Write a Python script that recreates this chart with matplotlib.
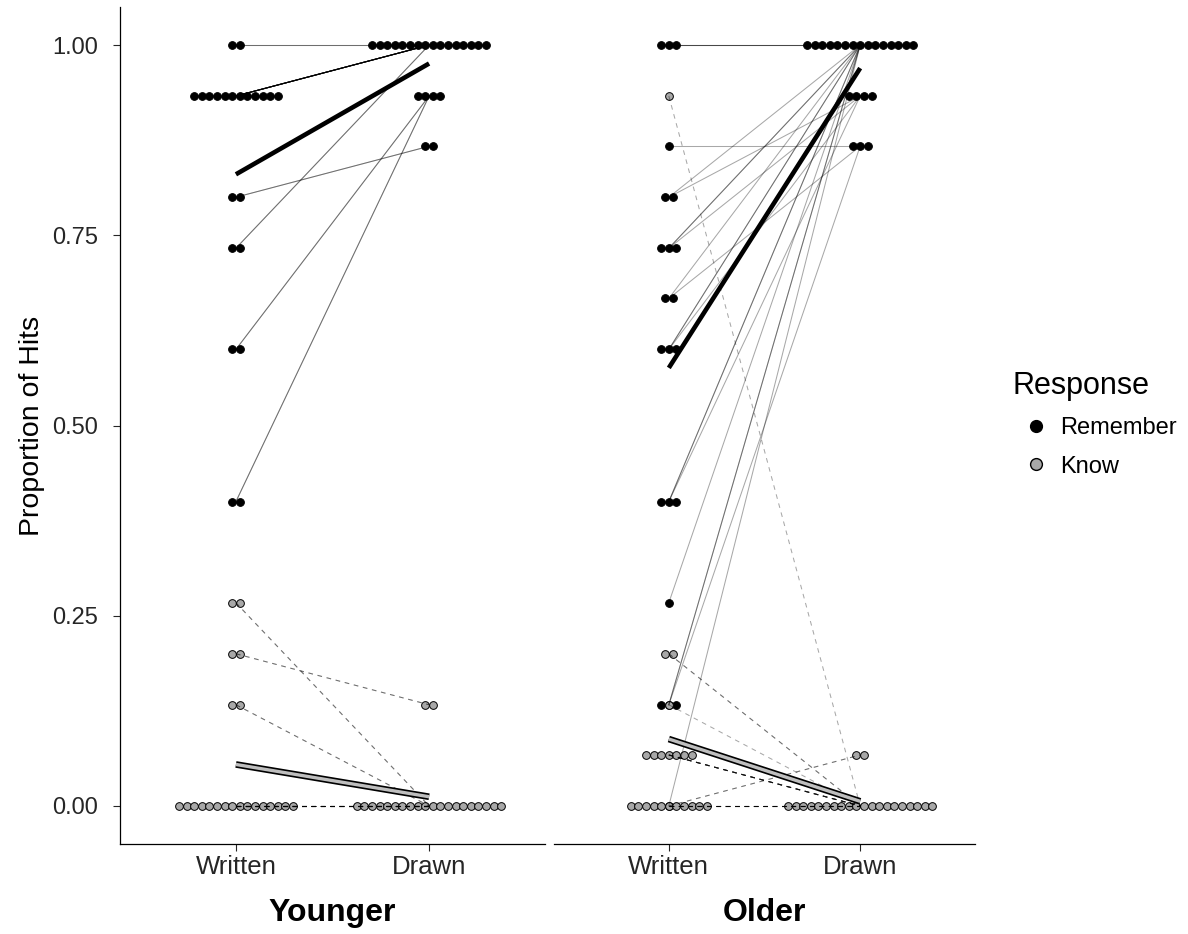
import matplotlib
matplotlib.use('Agg')
import matplotlib.pyplot as plt
import matplotlib.patheffects as pe
from matplotlib.lines import Line2D
import numpy as np
from collections import Counter

plt.rcParams['font.family'] = ['Liberation Sans', 'DejaVu Sans']

conditions = ['Written', 'Drawn']
groups = ['Younger', 'Older']
responses = ['Remember', 'Know']

# Per-participant proportions of hits (Written, Drawn)
younger_remember_written = [1.000, 1.000,
                            0.933, 0.933, 0.933, 0.933, 0.933, 0.933, 0.933, 0.933, 0.933, 0.933, 0.933, 0.933,
                            0.800, 0.800, 0.733, 0.733, 0.600, 0.600, 0.400, 0.400]
younger_remember_drawn = [1.000, 1.000,
                          1.000, 1.000, 1.000, 1.000, 1.000, 1.000, 1.000, 1.000, 1.000, 1.000, 1.000, 1.000,
                          0.867, 0.867, 1.000, 1.000, 0.933, 0.933, 0.933, 0.933]
younger_know_written = [0.267, 0.267, 0.200, 0.200, 0.133, 0.133,
                        0.000, 0.000, 0.000, 0.000, 0.000, 0.000, 0.000, 0.000,
                        0.000, 0.000, 0.000, 0.000, 0.000, 0.000, 0.000, 0.000]
younger_know_drawn = [0.000, 0.000, 0.133, 0.133, 0.000, 0.000,
                      0.000, 0.000, 0.000, 0.000, 0.000, 0.000, 0.000, 0.000,
                      0.000, 0.000, 0.000, 0.000, 0.000, 0.000, 0.000, 0.000]

older_remember_written = [1.000, 1.000, 1.000, 0.867, 0.800, 0.800,
                          0.733, 0.733, 0.733, 0.667, 0.667, 0.600, 0.600, 0.600,
                          0.400, 0.400, 0.400, 0.267, 0.133, 0.133, 0.133, 0.000]
older_remember_drawn = [1.000, 1.000, 1.000, 0.867, 1.000, 0.933,
                        1.000, 1.000, 0.933, 1.000, 0.867, 1.000, 1.000, 0.933,
                        1.000, 1.000, 0.933, 1.000, 1.000, 1.000, 0.867, 1.000]
older_know_written = [0.933, 0.200, 0.200, 0.133,
                      0.067, 0.067, 0.067, 0.067, 0.067, 0.067, 0.067,
                      0.000, 0.000, 0.000, 0.000, 0.000, 0.000, 0.000, 0.000, 0.000, 0.000, 0.000]
older_know_drawn = [0.000, 0.000, 0.000, 0.000,
                    0.000, 0.000, 0.000, 0.000, 0.000, 0.000, 0.000,
                    0.000, 0.000, 0.000, 0.000, 0.000, 0.000, 0.000, 0.000, 0.000, 0.067, 0.067]

y_ticks = [0.00, 0.25, 0.50, 0.75, 1.00]
y_tick_labels = ['0.00', '0.25', '0.50', '0.75', '1.00']

data = {
    'Younger': {'Remember': (younger_remember_written, younger_remember_drawn),
                'Know': (younger_know_written, younger_know_drawn)},
    'Older': {'Remember': (older_remember_written, older_remember_drawn),
              'Know': (older_know_written, older_know_drawn)},
}

W, H = 1188, 934
fig = plt.figure(figsize=(W / 100, H / 100), dpi=100)
panel_px = {'Younger': (120, 545), 'Older': (554, 975)}
top_px, bot_px = 7, 844
dot_px = 7.6
text_col = '#262626'

styles = {
    'Remember': dict(face='black', ls='-'),
    'Know': dict(face='#A8A8A8', ls=(0, (4.5, 4.5))),
}

for gi, g in enumerate(groups):
    x0, x1 = panel_px[g]
    ax = fig.add_axes([x0 / W, (H - bot_px) / H, (x1 - x0) / W, (bot_px - top_px) / H])
    ax.set_xlim(0.4, 2.6)
    ax.set_ylim(-0.05, 1.05)
    spacing = dot_px / ((x1 - x0) / 2.2)

    # dots
    for ri, r in enumerate(responses):
        for ci, vals in enumerate(data[g][r]):
            cnt = Counter(vals)
            for v, n in cnt.items():
                xs = (ci + 1) + (np.arange(n) - (n - 1) / 2) * spacing
                ax.scatter(xs, np.full(n, v), s=31, c=styles[r]['face'],
                           edgecolors='black', linewidths=0.7, zorder=2 + ri * 0.1)

    # individual participant lines
    for r in responses:
        wv, dv = data[g][r]
        for a, b in zip(wv, dv):
            ax.plot([1, 2], [a, b], color='black', alpha=0.34, lw=0.75,
                    linestyle=styles[r]['ls'], zorder=3)

    # mean lines
    wv, dv = data[g]['Remember']
    ax.plot([1, 2], [np.mean(wv), np.mean(dv)], color='black', lw=3.3,
            solid_capstyle='butt', zorder=5)
    wv, dv = data[g]['Know']
    ax.plot([1, 2], [np.mean(wv), np.mean(dv)], color='#BEBEBE', lw=2.4,
            solid_capstyle='butt', zorder=5,
            path_effects=[pe.Stroke(linewidth=4.8, foreground='black'), pe.Normal()])

    ax.set_xticks([1, 2])
    ax.set_xticklabels(conditions, fontsize=18.5, color=text_col)
    ax.tick_params(axis='x', length=5, width=0.8, color=text_col, pad=3)
    for s in ['top', 'right']:
        ax.spines[s].set_visible(False)
    ax.spines['bottom'].set_linewidth(0.9)
    if gi == 0:
        ax.set_yticks(y_ticks)
        ax.set_yticklabels(y_tick_labels, fontsize=17, color=text_col)
        ax.tick_params(axis='y', length=5, width=0.8, color=text_col, pad=11)
        ax.spines['left'].set_linewidth(0.9)
        ax.set_ylabel('Proportion of Hits', fontsize=20.5, labelpad=5)
    else:
        ax.spines['left'].set_visible(False)
        ax.set_yticks([])
    fig.text((x0 + x1) / 2 / W, 1 - 913 / H, g, fontsize=23, fontweight='bold',
             ha='center', va='center')

handles = [Line2D([], [], marker='o', linestyle='none', markerfacecolor='black',
                  markeredgecolor='black', markersize=8.5),
           Line2D([], [], marker='o', linestyle='none', markerfacecolor='#A8A8A8',
                  markeredgecolor='black', markersize=8.5)]
leg = fig.legend(handles, responses, title='Response', loc='upper left',
                 bbox_to_anchor=(1003 / W, 1 - 362 / H), frameon=False,
                 fontsize=17, title_fontsize=22, handletextpad=0.0,
                 labelspacing=0.68, borderaxespad=0)
leg._legend_box.align = 'left'

fig.savefig('out.png', dpi=100)
